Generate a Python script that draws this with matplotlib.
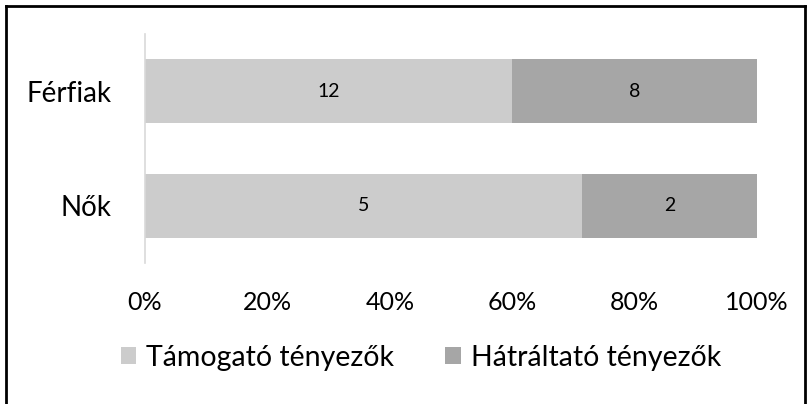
import matplotlib.pyplot as plt
from matplotlib.lines import Line2D
from matplotlib.ticker import PercentFormatter

categories = ["Nők", "Férfiak"]
tamogato = [5, 12]
hatraltato = [2, 8]
series_names = ["Támogató tényezők", "Hátráltató tényezők"]
colors = ["#cccccc", "#a6a6a6"]

plt.rcParams["font.family"] = ["Lato", "DejaVu Sans"]

fig = plt.figure(figsize=(8.08, 4.04), dpi=100)
ax = fig.add_axes([0.1795, 0.349, 0.7575, 0.567])

totals = [a + b for a, b in zip(tamogato, hatraltato)]
share1 = [a / t for a, t in zip(tamogato, totals)]
share2 = [b / t for b, t in zip(hatraltato, totals)]

ypos = range(len(categories))
b1 = ax.barh(ypos, share1, height=0.56, color=colors[0], label=series_names[0])
b2 = ax.barh(ypos, share2, left=share1, height=0.56, color=colors[1], label=series_names[1])

for bars, vals in ((b1, tamogato), (b2, hatraltato)):
    for rect, v in zip(bars, vals):
        ax.text(rect.get_x() + rect.get_width() / 2, rect.get_y() + rect.get_height() / 2,
                str(v), ha="center", va="center", fontsize=14, color="black")

ax.set_xlim(0, 1)
ax.set_ylim(-0.5, 1.5)
ax.set_yticks(list(ypos))
ax.set_yticklabels(categories, fontsize=20)
ax.set_xticks([0, 0.2, 0.4, 0.6, 0.8, 1.0])
ax.xaxis.set_major_formatter(PercentFormatter(1.0, decimals=0))
ax.tick_params(axis="x", labelsize=18, length=0, pad=20)
ax.tick_params(axis="y", length=0, pad=24)

for side in ("top", "right", "bottom"):
    ax.spines[side].set_visible(False)
ax.spines["left"].set_color("#d9d9d9")
ax.spines["left"].set_linewidth(1.2)

fig.legend(handles=[b1, b2], loc="center", bbox_to_anchor=(0.521, 0.114), ncol=2,
           frameon=False, fontsize=20.5, handlelength=0.55, handleheight=0.55,
           handletextpad=0.35, columnspacing=1.8)

# frame around the chart (bottom edge cut off)
fig.add_artist(Line2D([6 / 808, 6 / 808], [0, 1 - 6 / 404], color="black", lw=2, transform=fig.transFigure))
fig.add_artist(Line2D([6 / 808, 805 / 808], [1 - 6 / 404, 1 - 6 / 404], color="black", lw=2, transform=fig.transFigure))
fig.add_artist(Line2D([805 / 808, 805 / 808], [0, 1 - 6 / 404], color="black", lw=2, transform=fig.transFigure))

fig.savefig("out.png", dpi=100)
